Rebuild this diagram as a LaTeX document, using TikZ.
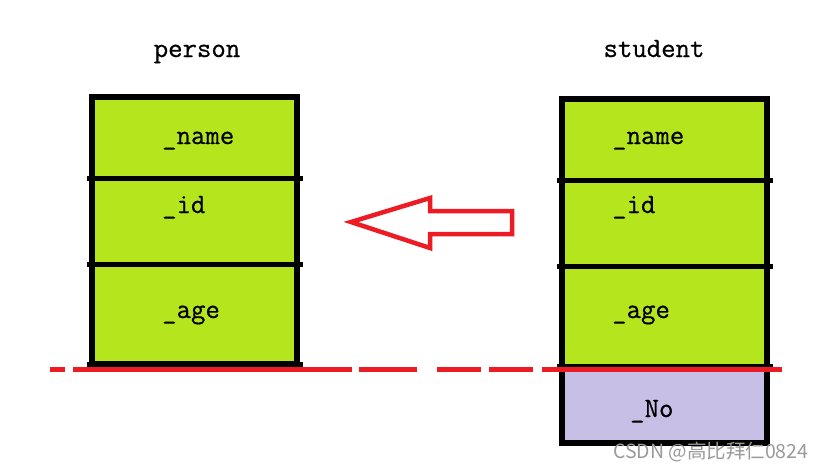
\documentclass[tikz,border=0pt]{standalone}
\usepackage{fontspec}
\newfontfamily\cjkfont{Noto Sans CJK SC}
\newfontfamily\fieldfont[FakeBold=0.6]{Latin Modern Mono}
\definecolor{boxgreen}{HTML}{B5E61D}
\definecolor{boxpurple}{HTML}{C8BFE7}
\definecolor{paintred}{HTML}{ED1C24}
\definecolor{wmgray}{HTML}{9A9A9A}
\tikzset{
  cellframe/.style={draw=black, line width=5.5pt},
  divider/.style={draw=black, line width=5pt},
  field/.style={anchor=base west, inner sep=0pt, font=\fieldfont\fontsize{28}{30}\selectfont},
  title/.style={anchor=base, inner sep=0pt, font=\fieldfont\fontsize{28}{30}\selectfont},
  redline/.style={draw=paintred, line width=5pt},
}
\begin{document}
\begin{tikzpicture}[x=1pt,y=-1pt]
\fill[white] (0,0) rectangle (827,469);
\useasboundingbox (0,0) rectangle (827,469);

% titles
\node[title] (tperson) at (197,57) {person};
\node[title] (tstudent) at (654,57) {student};

% left box (person)
\fill[boxgreen] (92,97) rectangle (297,364);
\draw[cellframe] (92,97) rectangle (297,364);
\draw[divider] (87,178) -- (303,178);
\draw[divider] (87,264) -- (303,264);
\draw[divider] (87,364) -- (303,364);
\node[field] (pname) at (162,144) {\_name};
\node[field] (pid) at (162,213) {\_id};
\node[field] (page) at (162,318) {\_age};

% right box (student)
\fill[boxgreen] (562,99) rectangle (767,366);
\fill[boxpurple] (562,366) rectangle (767,443);
\draw[cellframe] (562,99) rectangle (767,443);
\draw[divider] (557,180) -- (773,180);
\draw[divider] (557,266) -- (773,266);
\draw[divider] (557,366) -- (773,366);
\node[field] (sname) at (612,144) {\_name};
\node[field] (sid) at (612,213) {\_id};
\node[field] (sage) at (612,318) {\_age};
\node[field] (sno) at (630,417) {\_No};

% red dashed separator
\draw[redline] (50,369.5) -- (65,369.5);
\draw[redline] (73,369.5) -- (352,369.5);
\draw[redline] (359,369.5) -- (417,369.5);
\draw[redline] (437,369.5) -- (481,369.5);
\draw[redline] (489,369.5) -- (533,369.5);
\draw[redline] (542,369.5) -- (782,369.5);

% hollow arrow (inheritance)
\draw[draw=paintred, line width=4.5pt, line join=miter]
  (351,222) -- (430,198) -- (430,211) -- (512,211) -- (512,234) -- (430,234) -- (430,248) -- cycle;

% watermark
\node[anchor=base west, inner sep=0pt, text=wmgray, font=\cjkfont\fontsize{19.5}{21}\selectfont] (wm) at (613,458) {CSDN @高比拜仁0824};
\end{tikzpicture}
\end{document}
